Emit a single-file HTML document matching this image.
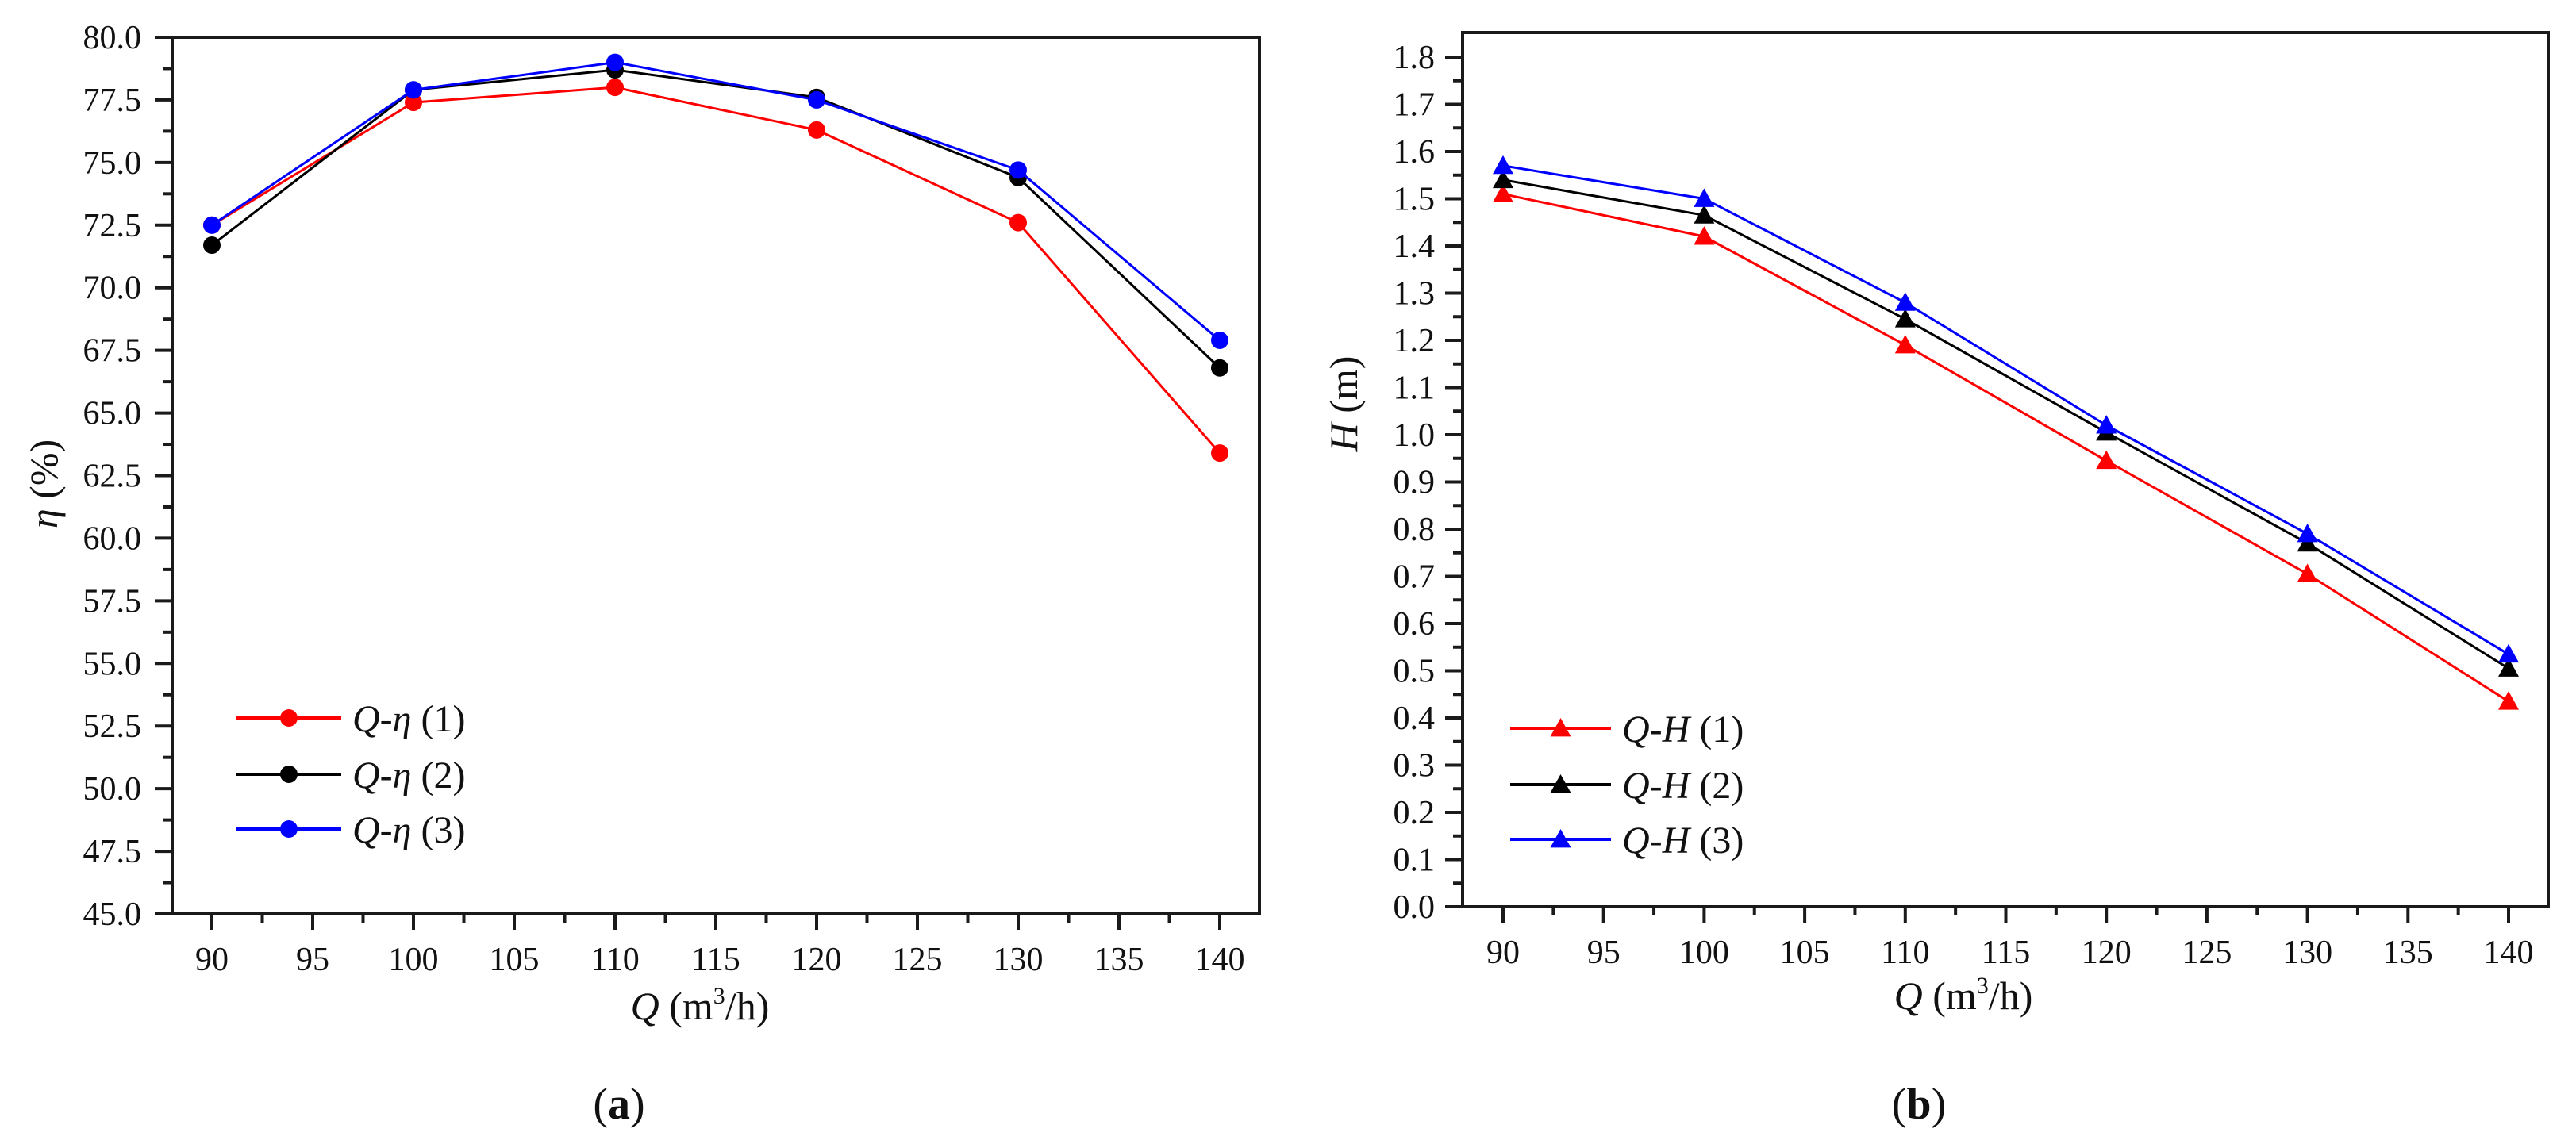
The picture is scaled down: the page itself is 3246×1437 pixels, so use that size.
<!DOCTYPE html>
<html><head><meta charset="utf-8"><style>
body{margin:0;background:#fff;}
svg{display:block;font-family:"Liberation Serif",serif;}
</style></head><body>
<svg id="chart" width="3246" height="1437" viewBox="0 0 3246 1437" xmlns="http://www.w3.org/2000/svg"></svg>
<script>
const categoriesQ = [90, 100, 110, 120, 130, 140];
const etaSeries1 = [72.5, 77.4, 78.0, 76.3, 72.6, 63.4];
const etaSeries2 = [71.7, 77.9, 78.7, 77.6, 74.4, 66.8];
const etaSeries3 = [72.5, 77.9, 79.0, 77.5, 74.7, 67.9];
const headSeries1 = [1.51, 1.42, 1.19, 0.945, 0.705, 0.435];
const headSeries2 = [1.54, 1.465, 1.245, 1.005, 0.77, 0.505];
const headSeries3 = [1.57, 1.50, 1.28, 1.02, 0.79, 0.535];
const xTickLabels = ["90","95","100","105","110","115","120","125","130","135","140"];
const etaTickLabels = ["45.0","47.5","50.0","52.5","55.0","57.5","60.0","62.5","65.0","67.5","70.0","72.5","75.0","77.5","80.0"];
const headTickLabels = ["0.0","0.1","0.2","0.3","0.4","0.5","0.6","0.7","0.8","0.9","1.0","1.1","1.2","1.3","1.4","1.5","1.6","1.7","1.8"];

const NS = "http://www.w3.org/2000/svg";
const svg = document.getElementById('chart');
function mk(tag, attrs, parent){
  const e = document.createElementNS(NS, tag);
  for (const k in attrs) e.setAttribute(k, attrs[k]);
  (parent||svg).appendChild(e);
  return e;
}
const colors = ["#ff0000","#000000","#0000ff"];

function panel(cfg){
  const g = mk('g', {});
  
  
  const xs = v => cfg.x0 + (v - 90) / 50 * (cfg.x1 - cfg.x0);
  const ys = v => cfg.yBot - (v - cfg.yMin) / (cfg.yTopVal - cfg.yMin) * (cfg.yBot - cfg.yTop);
  // frame
  const fr = mk('rect', {x: cfg.L, y: cfg.T, width: cfg.R - cfg.L, height: cfg.yBot - cfg.T, fill: 'none', stroke: '#1a1a1a', 'stroke-width': 4}, g);
  
  
  // x ticks
  const xt = mk('g', {}, g);
  
  
  xTickLabels.forEach((lab, i) => {
    const v = 90 + i * 5;
    const x = xs(v);
    mk('line', {x1: x, x2: x, y1: cfg.yBot, y2: cfg.yBot + 20, stroke: '#1a1a1a', 'stroke-width': 4}, xt);
    if (i < xTickLabels.length - 1) {
      const xm = xs(v + 2.5);
      mk('line', {x1: xm, x2: xm, y1: cfg.yBot, y2: cfg.yBot + 11, stroke: '#1a1a1a', 'stroke-width': 4}, xt);
    }
    const t = mk('text', {x: x, y: cfg.yBot + 71, 'text-anchor': 'middle', 'font-size': 42, fill: '#111'}, xt);
    t.textContent = lab;
    
    
  });
  // y ticks
  const yt = mk('g', {}, g);
  
  
  cfg.yLabels.forEach((lab, i) => {
    const v = cfg.yMin + i * cfg.yStep;
    const y = ys(v);
    mk('line', {x1: cfg.L, x2: cfg.L - 22, y1: y, y2: y, stroke: '#1a1a1a', 'stroke-width': 4}, yt);
    const vm = v + cfg.yStep / 2;
    if (ys(vm) > cfg.T + 2) {
      mk('line', {x1: cfg.L, x2: cfg.L - 12, y1: ys(vm), y2: ys(vm), stroke: '#1a1a1a', 'stroke-width': 4}, yt);
    }
    const t = mk('text', {x: cfg.labEnd, y: y + 14, 'text-anchor': 'end', 'font-size': 42, fill: '#111'}, yt);
    t.textContent = lab;
    
    
  });
  // series
  cfg.series.forEach((s, si) => {
    const sg = mk('g', {}, g);
    
    
    const pts = categoriesQ.map((q, i) => xs(q) + ',' + ys(s[i])).join(' ');
    mk('polyline', {points: pts, fill: 'none', stroke: colors[si], 'stroke-width': 3}, sg);
    categoriesQ.forEach((q, i) => {
      const m = marker(cfg.shape, xs(q), ys(s[i]), colors[si], sg);
      
      
    });
  });
  // legend
  const lg = mk('g', {}, g);
  
  
  cfg.legendY.forEach((y, i) => {
    const e = mk('g', {}, lg);
    
    
    mk('line', {x1: cfg.legX0, x2: cfg.legX1, y1: y, y2: y, stroke: colors[i], 'stroke-width': 4}, e);
    marker(cfg.shape, (cfg.legX0 + cfg.legX1) / 2, y, colors[i], e);
    const t = mk('text', {x: cfg.legX1 + 14, y: y + 17, 'font-size': 48, fill: '#111'}, e);
    t.innerHTML = '<tspan font-style="italic">Q</tspan>-<tspan font-style="italic">' + cfg.sym + '</tspan> (' + (i + 1) + ')';
  });
  // axis titles
  const xtitle = mk('text', {x: cfg.xtX, y: cfg.xtY, 'text-anchor': 'middle', 'font-size': 50, fill: '#111'}, g);
  xtitle.innerHTML = '<tspan font-style="italic">Q</tspan> (m<tspan font-size="30" dy="-20">3</tspan><tspan dy="20">/h)</tspan>';
  
  
  const ytitle = mk('text', {x: 0, y: 0, 'text-anchor': 'middle', 'font-size': 50, fill: '#111', transform: 'translate(' + cfg.ytX + ',' + cfg.ytY + ') rotate(-90)'}, g);
  ytitle.innerHTML = '<tspan font-style="italic">' + cfg.sym + '</tspan> ' + cfg.unit;
  
  
  const cap = mk('text', {x: cfg.capX, y: 1410, 'text-anchor': 'middle', 'font-size': 56, fill: '#111'}, g);
  cap.innerHTML = '(<tspan font-weight="bold">' + cfg.cap + '</tspan>)';
  
  
}
function marker(shape, x, y, c, parent){
  if (shape === 'circle') return mk('circle', {cx: x, cy: y, r: 11, fill: c}, parent);
  const s = 13;
  return mk('polygon', {points: (x) + ',' + (y - s) + ' ' + (x - s) + ',' + (y + s * 0.8) + ' ' + (x + s) + ',' + (y + s * 0.8), fill: c}, parent);
}

panel({name: 'efficiency-chart', L: 217, R: 1587, T: 47, yBot: 1152, x0: 267, x1: 1537,
  yMin: 45, yTopVal: 80, yTop: 47, yStep: 2.5, yLabels: etaTickLabels, labEnd: 178,
  series: [etaSeries1, etaSeries2, etaSeries3], shape: 'circle', sym: 'η', unit: '(%)',
  legendY: [905, 976, 1045], legX0: 298, legX1: 430,
  xtX: 882, xtY: 1285, ytX: 72, ytY: 610, capX: 780, cap: 'a'});
panel({name: 'head-chart', L: 1843, R: 3211, T: 41, yBot: 1143, x0: 1894, x1: 3161,
  yMin: 0, yTopVal: 1.8, yTop: 72, yStep: 0.1, yLabels: headTickLabels, labEnd: 1808,
  series: [headSeries1, headSeries2, headSeries3], shape: 'tri', sym: 'H', unit: '(m)',
  legendY: [918, 989, 1058], legX0: 1903, legX1: 2030,
  xtX: 2474, xtY: 1272, ytX: 1710, ytY: 509, capX: 2418, cap: 'b'});
</script>
</body></html>
